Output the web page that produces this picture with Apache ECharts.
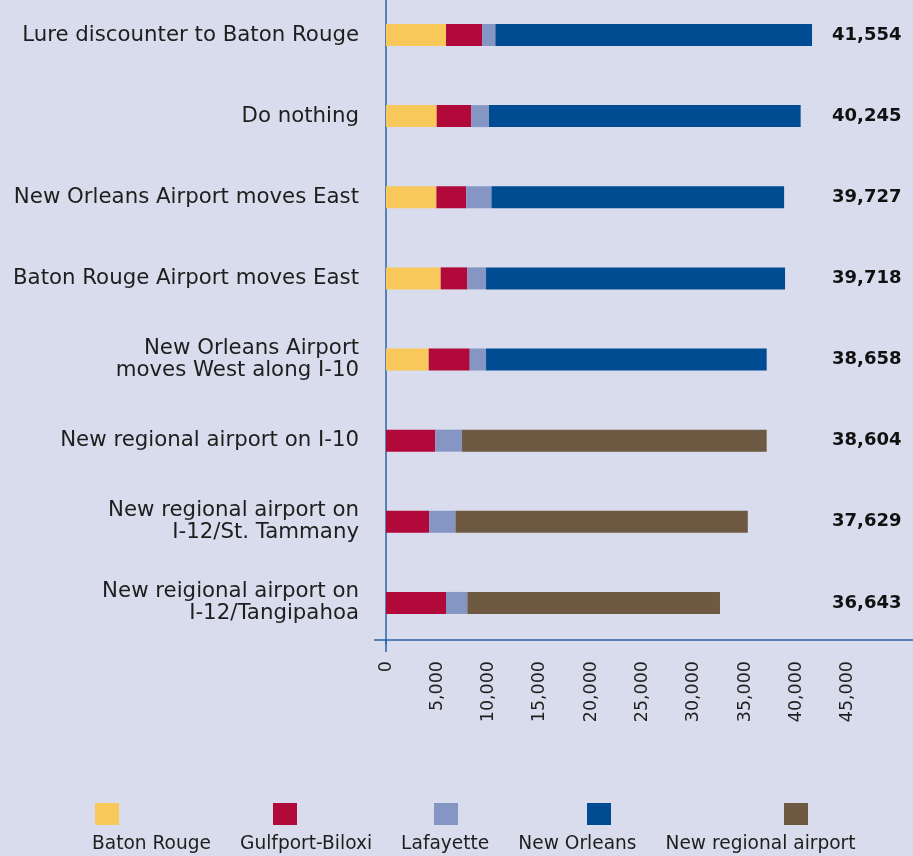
<!DOCTYPE html>
<html>
<head>
<meta charset="utf-8">
<style>
html,body{margin:0;padding:0;background:#D9DCEC;}
#chart{width:913px;height:856px;}
</style>
<script src="https://cdn.jsdelivr.net/npm/echarts@6/dist/echarts.min.js"></script>
</head>
<body>
<div id="chart"></div>
<script>
// ---- Data ----
const categories = [
  'Lure discounter to Baton Rouge',
  'Do nothing',
  'New Orleans Airport moves East',
  'Baton Rouge Airport moves East',
  'New Orleans Airport\nmoves West along I-10',
  'New regional airport on I-10',
  'New regional airport on\nI-12/St. Tammany',
  'New reigional airport on\nI-12/Tangipahoa'
];
const seriesNames = ['Baton Rouge', 'Gulfport-Biloxi', 'Lafayette', 'New Orleans', 'New regional airport'];
const batonRouge  = [5850, 4940, 4910, 5330, 4160, 0, 0, 0];
const gulfport    = [3510, 3380, 2900, 2600, 4000, 4810, 4200, 5850];
const lafayette   = [1300, 1720, 2470, 1820, 1590, 2600, 2570, 2080];
const newOrleans  = [30860, 30370, 28520, 29140, 27350, 0, 0, 0];
const newRegional = [0, 0, 0, 0, 0, 29690, 28490, 24620];
const totals      = [41554, 40245, 39727, 39718, 38658, 38604, 37629, 36643];
const xTickMax    = 45000;

// ---- Styles ----
const colors = ['#F9C85B', '#B0093A', '#8595C4', '#004C93', '#6E5A43'];
const axisBlue = '#2F62A6';
const textColor = '#1e1e1e';
const font = 'DejaVu Sans';
const iconLeft = [95, 273, 434, 587, 784];

const fmt = v => v.toLocaleString('en-US');
const values = [batonRouge, gulfport, lafayette, newOrleans, newRegional];

const chart = echarts.init(document.getElementById('chart'), null, {renderer: 'canvas'});

const legends = seriesNames.map((n, i) => ({
  data: [n],
  left: iconLeft[i],
  top: 803,
  padding: 0,
  icon: 'rect',
  itemWidth: 24,
  itemHeight: 22,
  formatter: () => '',
  textStyle: {fontSize: 1}
}));
legends.push({
  data: seriesNames,
  left: 87,
  top: 835,
  padding: 0,
  itemWidth: 0,
  itemHeight: 0,
  itemGap: 24,
  icon: 'rect',
  textStyle: {fontFamily: font, fontSize: 18.6, color: textColor}
});

chart.setOption({
  backgroundColor: '#D9DCEC',
  animation: false,
  color: colors,
  legend: legends,
  grid: {left: 386, right: 0, top: -5.6, bottom: 212.5, containLabel: false, outerBoundsMode: 'none'},
  xAxis: {
    type: 'value',
    min: 0,
    max: 51360,
    interval: 5000,
    offset: -3.5,
    splitLine: {show: false},
    axisTick: {show: false},
    axisLine: {show: true, lineStyle: {color: axisBlue, width: 1.5}},
    axisLabel: {
      rotate: 90,
      margin: 21,
      fontFamily: font,
      fontSize: 17.5,
      color: textColor,
      showMaxLabel: false,
      formatter: v => (v <= xTickMax ? fmt(v) : '')
    }
  },
  yAxis: [{
    type: 'category',
    data: categories,
    inverse: true,
    axisTick: {show: false},
    axisLine: {show: true, onZero: false, lineStyle: {color: axisBlue, width: 1.5}},
    axisLabel: {
      margin: 27,
      fontFamily: font,
      fontSize: 21.3,
      lineHeight: 22,
      color: textColor,
      align: 'right'
    }
  }, {
    type: 'category',
    data: totals.map(fmt),
    inverse: true,
    position: 'right',
    axisTick: {show: false},
    axisLine: {show: false},
    axisLabel: {
      inside: true,
      margin: 81,
      align: 'left',
      fontFamily: font,
      fontSize: 18,
      fontWeight: 'bold',
      color: '#111',
      padding: [0, 0, 2, 0]
    }
  }],
  graphic: [
    {type: 'line', shape: {x1: 374, y1: 640, x2: 386, y2: 640}, style: {stroke: axisBlue, lineWidth: 1.5}, silent: true},
    {type: 'line', shape: {x1: 386, y1: 640, x2: 386, y2: 652}, style: {stroke: axisBlue, lineWidth: 1.5}, silent: true}
  ],
  series: seriesNames.map((n, i) => ({
    name: n,
    type: 'bar',
    stack: 'total',
    barWidth: 22,
    data: values[i],
    itemStyle: {color: colors[i]}
  }))
});
</script>
</body>
</html>
